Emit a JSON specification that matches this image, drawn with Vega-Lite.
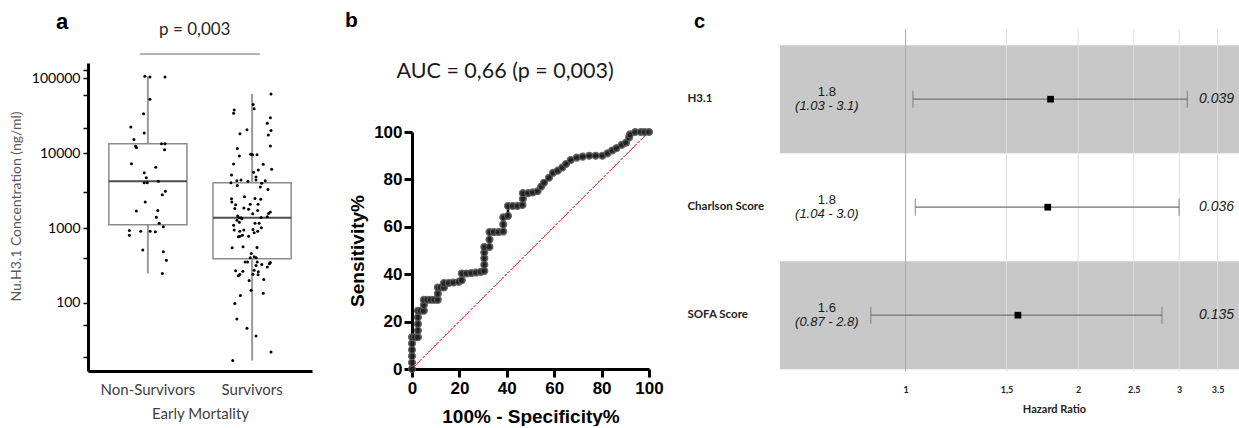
{
"$schema": "https://vega.github.io/schema/vega-lite/v6.json",
"background": "white",
"padding": {"left": 9, "top": 10, "right": 0, "bottom": 0},
"bounds": "flush",
"spacing": 100,
"config": {"view": {"stroke": null}, "title": {"font": "Liberation Sans", "fontWeight": "bold", "fontSize": 21, "color": "black", "anchor": "start", "frame": "group", "baseline": "alphabetic"}},
"datasets": {
"box": [
{"g":"Non-Survivors","min":248,"q1":1110,"med":4210,"q3":13400,"max":107000},
{"g":"Survivors","min":17,"q1":389,"med":1370,"q3":4030,"max":61900}
],
"pts": [
{"g":"Non-Survivors","v":107000,"j":-0.15},{"g":"Non-Survivors","v":104500,"j":0.1},{"g":"Non-Survivors","v":104500,"j":0.83},{"g":"Non-Survivors","v":52600,"j":0.1},{"g":"Non-Survivors","v":33700,"j":-0.21},{"g":"Non-Survivors","v":22400,"j":-0.83},{"g":"Non-Survivors","v":18600,"j":-0.18},{"g":"Non-Survivors","v":15300,"j":-0.68},{"g":"Non-Survivors","v":12400,"j":-0.6},{"g":"Non-Survivors","v":11900,"j":-0.56},{"g":"Non-Survivors","v":13400,"j":0.66},{"g":"Non-Survivors","v":13400,"j":0.83},{"g":"Non-Survivors","v":11100,"j":0.81},{"g":"Non-Survivors","v":7240,"j":-0.8},{"g":"Non-Survivors","v":6480,"j":0.38},{"g":"Non-Survivors","v":5480,"j":-0.18},{"g":"Non-Survivors","v":4700,"j":-0.08},{"g":"Non-Survivors","v":4030,"j":-0.18},{"g":"Non-Survivors","v":4030,"j":-0.03},{"g":"Non-Survivors","v":4210,"j":0.51},{"g":"Non-Survivors","v":3100,"j":0.85},{"g":"Non-Survivors","v":2790,"j":0.7},{"g":"Non-Survivors","v":2230,"j":-0.13},{"g":"Non-Survivors","v":1690,"j":-0.56},{"g":"Non-Survivors","v":1720,"j":0.48},{"g":"Non-Survivors","v":1400,"j":0.41},{"g":"Non-Survivors","v":1160,"j":0.55},{"g":"Non-Survivors","v":1040,"j":0.75},{"g":"Non-Survivors","v":930,"j":-0.9},{"g":"Non-Survivors","v":800,"j":-0.9},{"g":"Non-Survivors","v":910,"j":-0.35},{"g":"Non-Survivors","v":910,"j":0.11},{"g":"Non-Survivors","v":890,"j":0.36},{"g":"Non-Survivors","v":508,"j":-0.25},{"g":"Non-Survivors","v":482,"j":0.75},{"g":"Non-Survivors","v":373,"j":0.9},{"g":"Non-Survivors","v":248,"j":0.7},
{"g":"Survivors","v":61900,"j":0.92},{"g":"Survivors","v":45000,"j":0.05},{"g":"Survivors","v":39400,"j":0.1},{"g":"Survivors","v":37800,"j":-0.87},{"g":"Survivors","v":34200,"j":-0.9},{"g":"Survivors","v":29800,"j":0.89},{"g":"Survivors","v":25100,"j":0.74},{"g":"Survivors","v":20200,"j":0.92},{"g":"Survivors","v":20600,"j":-0.25},{"g":"Survivors","v":18200,"j":-0.59},{"g":"Survivors","v":17500,"j":0.79},{"g":"Survivors","v":12500,"j":0.89},{"g":"Survivors","v":11600,"j":-0.72},{"g":"Survivors","v":9670,"j":-0.07},{"g":"Survivors","v":9550,"j":0.02},{"g":"Survivors","v":9550,"j":0.24},{"g":"Survivors","v":9180,"j":-0.62},{"g":"Survivors","v":7110,"j":0.54},{"g":"Survivors","v":7170,"j":-0.9},{"g":"Survivors","v":5960,"j":0.3},{"g":"Survivors","v":6090,"j":0.95},{"g":"Survivors","v":5560,"j":0.07},{"g":"Survivors","v":5110,"j":-1.0},{"g":"Survivors","v":4810,"j":0.19},{"g":"Survivors","v":4030,"j":-1.03},{"g":"Survivors","v":4290,"j":-0.74},{"g":"Survivors","v":4380,"j":-0.54},{"g":"Survivors","v":4210,"j":-0.2},{"g":"Survivors","v":4380,"j":0.19},{"g":"Survivors","v":3960,"j":0.47},{"g":"Survivors","v":4290,"j":0.64},{"g":"Survivors","v":3530,"j":0.4},{"g":"Survivors","v":3290,"j":0.77},{"g":"Survivors","v":3720,"j":-0.72},{"g":"Survivors","v":2460,"j":-1.0},{"g":"Survivors","v":2620,"j":-0.37},{"g":"Survivors","v":2490,"j":0.14},{"g":"Survivors","v":2420,"j":0.42},{"g":"Survivors","v":2230,"j":-0.99},{"g":"Survivors","v":2050,"j":-0.8},{"g":"Survivors","v":2090,"j":-0.09},{"g":"Survivors","v":2080,"j":0.29},{"g":"Survivors","v":1850,"j":-0.4},{"g":"Survivors","v":1830,"j":-0.84},{"g":"Survivors","v":1780,"j":-0.17},{"g":"Survivors","v":1720,"j":0.27},{"g":"Survivors","v":1640,"j":0.89},{"g":"Survivors","v":1570,"j":0.8},{"g":"Survivors","v":1550,"j":0.03},{"g":"Survivors","v":1420,"j":0.74},{"g":"Survivors","v":1450,"j":-0.7},{"g":"Survivors","v":1370,"j":-0.64},{"g":"Survivors","v":1370,"j":-0.54},{"g":"Survivors","v":1270,"j":-0.74},{"g":"Survivors","v":1200,"j":-0.62},{"g":"Survivors","v":1330,"j":-0.5},{"g":"Survivors","v":1390,"j":0.44},{"g":"Survivors","v":1160,"j":0.14},{"g":"Survivors","v":1160,"j":0.34},{"g":"Survivors","v":1090,"j":-0.9},{"g":"Survivors","v":1010,"j":0.45},{"g":"Survivors","v":940,"j":-0.87},{"g":"Survivors","v":910,"j":-0.6},{"g":"Survivors","v":940,"j":-0.4},{"g":"Survivors","v":960,"j":0.04},{"g":"Survivors","v":910,"j":0.27},{"g":"Survivors","v":780,"j":-0.6},{"g":"Survivors","v":765,"j":-0.67},{"g":"Survivors","v":800,"j":-0.47},{"g":"Survivors","v":780,"j":-0.17},{"g":"Survivors","v":865,"j":0.1},{"g":"Survivors","v":545,"j":-0.97},{"g":"Survivors","v":562,"j":-0.44},{"g":"Survivors","v":552,"j":0.24},{"g":"Survivors","v":459,"j":-0.04},{"g":"Survivors","v":413,"j":0.1},{"g":"Survivors","v":401,"j":-0.09},{"g":"Survivors","v":401,"j":0.2},{"g":"Survivors","v":351,"j":-0.34},{"g":"Survivors","v":351,"j":-0.22},{"g":"Survivors","v":351,"j":0.25},{"g":"Survivors","v":348,"j":0.89},{"g":"Survivors","v":333,"j":0.84},{"g":"Survivors","v":317,"j":0.19},{"g":"Survivors","v":327,"j":0.47},{"g":"Survivors","v":301,"j":0.74},{"g":"Survivors","v":274,"j":0.1},{"g":"Survivors","v":269,"j":-0.8},{"g":"Survivors","v":264,"j":-0.45},{"g":"Survivors","v":240,"j":-0.6},{"g":"Survivors","v":230,"j":-0.67},{"g":"Survivors","v":242,"j":0.04},{"g":"Survivors","v":260,"j":0.3},{"g":"Survivors","v":237,"j":0.29},{"g":"Survivors","v":206,"j":0.57},{"g":"Survivors","v":200,"j":-0.14},{"g":"Survivors","v":148,"j":-0.05},{"g":"Survivors","v":135,"j":0.54},{"g":"Survivors","v":126,"j":-0.57},{"g":"Survivors","v":98.5,"j":-0.84},{"g":"Survivors","v":61,"j":-0.74},{"g":"Survivors","v":46,"j":-0.25},{"g":"Survivors","v":36,"j":0.19},{"g":"Survivors","v":22,"j":0.92},{"g":"Survivors","v":17,"j":-0.94}
],
"roc": [
{"i":1,"fpr":0,"tpr":0},{"i":2,"fpr":0,"tpr":2.7},{"i":3,"fpr":0,"tpr":5.4},{"i":4,"fpr":0,"tpr":8.1},{"i":5,"fpr":0,"tpr":10.8},{"i":6,"fpr":0,"tpr":13.4},{"i":7,"fpr":1.2,"tpr":13.4},{"i":8,"fpr":2.5,"tpr":13.4},{"i":9,"fpr":2.5,"tpr":16.2},{"i":10,"fpr":2.5,"tpr":19},{"i":11,"fpr":2.5,"tpr":21.8},{"i":12,"fpr":2.5,"tpr":24.6},{"i":13,"fpr":3.7,"tpr":24.6},{"i":14,"fpr":5,"tpr":24.6},{"i":15,"fpr":5,"tpr":27},{"i":16,"fpr":5,"tpr":29.2},{"i":17,"fpr":6.5,"tpr":29.2},{"i":18,"fpr":8,"tpr":29.2},{"i":19,"fpr":9.5,"tpr":29.2},{"i":20,"fpr":10.9,"tpr":29.2},{"i":21,"fpr":10.9,"tpr":31.8},{"i":22,"fpr":10.9,"tpr":34.4},{"i":23,"fpr":12.2,"tpr":34.4},{"i":24,"fpr":13.5,"tpr":34.4},{"i":25,"fpr":13.5,"tpr":36.3},{"i":26,"fpr":15.5,"tpr":36.3},{"i":27,"fpr":17.5,"tpr":36.5},{"i":28,"fpr":19.7,"tpr":36.8},{"i":29,"fpr":21,"tpr":37.5},{"i":30,"fpr":21,"tpr":40.3},{"i":31,"fpr":23,"tpr":40.3},{"i":32,"fpr":25,"tpr":40.5},{"i":33,"fpr":27,"tpr":40.7},{"i":34,"fpr":29,"tpr":41},{"i":35,"fpr":30.5,"tpr":41.4},{"i":36,"fpr":30.5,"tpr":44},{"i":37,"fpr":30.5,"tpr":46.7},{"i":38,"fpr":30.5,"tpr":49.2},{"i":39,"fpr":30.5,"tpr":51.5},{"i":40,"fpr":32.7,"tpr":51.5},{"i":41,"fpr":32.7,"tpr":54.6},{"i":42,"fpr":32.7,"tpr":57.8},{"i":43,"fpr":34.5,"tpr":57.8},{"i":44,"fpr":36.5,"tpr":57.8},{"i":45,"fpr":38.5,"tpr":58},{"i":46,"fpr":38.5,"tpr":61},{"i":47,"fpr":38.5,"tpr":64},{"i":48,"fpr":40.5,"tpr":64.6},{"i":49,"fpr":40.5,"tpr":68.8},{"i":50,"fpr":42.5,"tpr":68.8},{"i":51,"fpr":44.5,"tpr":68.8},{"i":52,"fpr":46.6,"tpr":69.2},{"i":53,"fpr":46.8,"tpr":71.8},{"i":54,"fpr":46.8,"tpr":74.2},{"i":55,"fpr":49,"tpr":74.2},{"i":56,"fpr":51,"tpr":74.5},{"i":57,"fpr":53,"tpr":75},{"i":58,"fpr":54.5,"tpr":77},{"i":59,"fpr":55.7,"tpr":78.6},{"i":60,"fpr":57.8,"tpr":80.7},{"i":61,"fpr":59.5,"tpr":82.8},{"i":62,"fpr":61.5,"tpr":83.7},{"i":63,"fpr":63.4,"tpr":85},{"i":64,"fpr":65,"tpr":86.5},{"i":65,"fpr":67,"tpr":88.2},{"i":66,"fpr":69.5,"tpr":89.2},{"i":67,"fpr":72,"tpr":89.6},{"i":68,"fpr":74.8,"tpr":90},{"i":69,"fpr":77.5,"tpr":90},{"i":70,"fpr":80.3,"tpr":90},{"i":71,"fpr":82.5,"tpr":91},{"i":72,"fpr":84.5,"tpr":92.2},{"i":73,"fpr":86.3,"tpr":93.2},{"i":74,"fpr":88.5,"tpr":94.6},{"i":75,"fpr":90.3,"tpr":95.5},{"i":76,"fpr":91.6,"tpr":97.7},{"i":77,"fpr":92,"tpr":99},{"i":78,"fpr":94.2,"tpr":100},{"i":79,"fpr":96.5,"tpr":100},{"i":80,"fpr":98.2,"tpr":100},{"i":81,"fpr":100,"tpr":100}
],
"hr": [
{"var":"H3.1","hr":1.79,"lo":1.03,"hi":3.1,"hr_label":"1.8","ci":"(1.03 - 3.1)","p":"0.039","shade":"yes"},
{"var":"Charlson Score","hr":1.77,"lo":1.04,"hi":3.0,"hr_label":"1.8","ci":"(1.04 - 3.0)","p":"0.036","shade":"no"},
{"var":"SOFA Score","hr":1.57,"lo":0.87,"hi":2.8,"hr_label":"1.6","ci":"(0.87 - 2.8)","p":"0.135","shade":"yes"}
],
"grid": [{"v":1},{"v":1.5},{"v":2},{"v":2.5},{"v":3},{"v":3.5}]
},
"hconcat": [
{
"title": {"text": "a", "dx": -32, "offset": -23, "fontSize": 22},
"width": 224, "height": 360,
"resolve": {"scale": {"xOffset": "independent"}},
"layer": [
{"data": {"name": "box"},
 "mark": {"type": "rule", "color": "#9a9a9a", "strokeWidth": 2},
 "encoding": {
  "x": {"field": "g", "type": "nominal", "sort": ["Non-Survivors","Survivors"],
   "scale": {"domain": ["Non-Survivors","Survivors"], "paddingInner": 0.25, "paddingOuter": 0.2},
   "axis": {"title": "Early Mortality", "labelAngle": 0, "labelFont": "Lato", "labelFontSize": 15, "labelColor": "#404040", "labelPadding": 11, "ticks": false, "domainColor": "black", "domainWidth": 3, "titleFont": "Lato", "titleFontSize": 15, "titleFontWeight": "normal", "titleColor": "#404040", "titlePadding": 9}},
  "y": {"field": "min", "type": "quantitative",
   "scale": {"type": "log", "domain": [12.3, 160800], "range": [360, 52], "nice": false},
   "axis": {"title": "Nu.H3.1 Concentration (ng/ml)", "values": [19, 50, 100, 400, 1000, 3000, 10000, 22000, 60000, 100000, 130000], "labelExpr": "(datum.value==100||datum.value==1000||datum.value==10000||datum.value==100000) ? format(datum.value,'d') : ''", "grid": false, "labelFont": "Lato", "labelFontSize": 14, "labelColor": "black", "tickColor": "black", "tickSize": 5, "tickWidth": 1.5, "domainColor": "black", "domainWidth": 3, "labelPadding": 3, "titleFont": "Lato", "titleFontSize": 14, "titleFontWeight": "normal", "titleColor": "#595959", "titlePadding": 8, "titleY": 195}},
  "y2": {"field": "max"}
 }},
{"data": {"name": "box"},
 "mark": {"type": "bar", "fill": "white", "stroke": "#8c8c8c", "strokeWidth": 1.5},
 "encoding": {"x": {"field": "g", "type": "nominal"}, "y": {"field": "q1", "type": "quantitative"}, "y2": {"field": "q3"}}},
{"data": {"name": "box"},
 "mark": {"type": "bar", "fill": null, "stroke": "#4d4d4d", "strokeWidth": 2},
 "encoding": {"x": {"field": "g", "type": "nominal"}, "y": {"field": "med", "type": "quantitative"}, "y2": {"field": "med"}}},
{"data": {"name": "pts"},
 "mark": {"type": "circle", "size": 9, "color": "black", "opacity": 1},
 "encoding": {"x": {"field": "g", "type": "nominal"}, "xOffset": {"field": "j", "type": "quantitative", "scale": {"domain": [-1.9, 1.9]}}, "y": {"field": "v", "type": "quantitative"}}},
{"data": {"values": [{"from": "Non-Survivors", "to": "Survivors"}]},
 "mark": {"type": "rule", "color": "#666666", "strokeWidth": 1},
 "encoding": {"x": {"field": "from", "type": "nominal", "bandPosition": 0.4}, "x2": {"field": "to", "bandPosition": 0.6}, "y": {"datum": 211800, "type": "quantitative"}}},
{"data": {"values": [{"label": "p = 0,003"}]},
 "mark": {"type": "text", "font": "Lato", "fontSize": 17, "color": "#262626", "baseline": "alphabetic", "align": "center"},
 "encoding": {"x": {"datum": "Non-Survivors", "type": "nominal", "bandPosition": 1.1}, "y": {"datum": 375000, "type": "quantitative"}, "text": {"field": "label"}}}
]
},
{
"title": {"text": "b", "dx": -67, "offset": -20},
"width": 268, "height": 360,
"layer": [
{"data": {"name": "roc"},
 "mark": {"type": "rule", "color": "#ff4d4d", "strokeWidth": 1, "strokeDash": [2, 2]},
 "encoding": {
  "x": {"datum": 0, "type": "quantitative",
   "scale": {"domain": [0, 100], "range": [0, 237], "nice": false},
   "axis": {"values": [0,20,40,60,80,100], "labelFlush": false, "labelOverlap": false, "title": "100% - Specificity%", "grid": false, "offset": -2, "domainColor": "black", "domainWidth": 3, "tickColor": "black", "tickWidth": 3, "tickSize": 8, "labelFont": "Liberation Sans", "labelFontWeight": "bold", "labelFontSize": 17, "labelColor": "black", "labelPadding": 3, "titleFont": "Liberation Sans", "titleFontWeight": "bold", "titleFontSize": 19, "titleColor": "black", "titlePadding": 11}},
  "y": {"datum": 0, "type": "quantitative",
   "scale": {"domain": [0, 100], "range": [358, 121], "nice": false},
   "axis": {"values": [0,20,40,60,80,100], "labelFlush": false, "labelOverlap": false, "title": "Sensitivity%", "grid": false, "domainColor": "black", "domainWidth": 3, "tickColor": "black", "tickWidth": 3, "tickSize": 8, "labelFont": "Liberation Sans", "labelFontWeight": "bold", "labelFontSize": 17, "labelColor": "black", "labelPadding": 2, "titleFont": "Liberation Sans", "titleFontWeight": "bold", "titleFontSize": 19, "titleColor": "black", "titlePadding": 6}},
  "x2": {"datum": 100}, "y2": {"datum": 100}
 }},
{"data": {"name": "roc"},
 "mark": {"type": "line", "color": "black", "strokeWidth": 2.5},
 "encoding": {"x": {"field": "fpr", "type": "quantitative"}, "y": {"field": "tpr", "type": "quantitative"}, "order": {"field": "i"}}},
{"data": {"name": "roc"},
 "mark": {"type": "circle", "size": 48, "color": "#222222", "opacity": 0.9, "stroke": "#5a5a5a", "strokeWidth": 1.2},
 "encoding": {"x": {"field": "fpr", "type": "quantitative"}, "y": {"field": "tpr", "type": "quantitative"}}},
{"data": {"values": [{"label": "AUC = 0,66 (p = 0,003)"}]},
 "mark": {"type": "text", "font": "Lato", "fontSize": 21.5, "color": "#1a1a1a", "baseline": "alphabetic", "align": "center"},
 "encoding": {"x": {"datum": 39.3, "type": "quantitative"}, "y": {"datum": 122.6, "type": "quantitative"}, "text": {"field": "label"}}}
]
},
{
"title": {"text": "c", "dx": -86, "offset": -21, "fontSize": 20},
"width": 460, "height": 360,
"data": {"name": "hr"},
"layer": [
{"transform": [{"filter": "datum.shade == 'yes'"}],
 "mark": {"type": "rect", "color": "#c8c8c8"},
 "encoding": {
  "y": {"field": "var", "type": "nominal", "sort": ["H3.1","Charlson Score","SOFA Score"],
   "scale": {"domain": ["H3.1","Charlson Score","SOFA Score"], "range": [18, 360], "paddingInner": 0, "paddingOuter": 0.0833, "align": 0.9},
   "axis": {"title": null, "domain": false, "ticks": false, "labelAlign": "left", "labelPadding": 93, "labelFont": "Lato", "labelFontWeight": "bold", "labelFontSize": 11.5, "labelColor": "#222222"}},
  "x": {"datum": 0.604, "type": "quantitative",
   "scale": {"type": "log", "domain": [0.604, 3.83], "nice": false},
   "axis": {"values": [1, 1.5, 2, 2.5, 3, 3.5], "labelExpr": "datum.value == 1.5 ? '1,5' : toString(datum.value)", "domain": false, "ticks": false, "grid": false, "labelFont": "Lato", "labelFontWeight": "bold", "labelFontSize": 9, "labelColor": "#222222", "labelPadding": 14, "title": "Hazard Ratio", "titleFont": "Lato", "titleFontWeight": "bold", "titleFontSize": 11, "titleColor": "#222222", "titlePadding": 9, "titleX": 274}},
  "x2": {"datum": 3.83}
 }},
{"data": {"name": "grid"},
 "mark": {"type": "rule", "strokeWidth": 1},
 "encoding": {"x": {"field": "v", "type": "quantitative"},
  "y": {"datum": "H3.1", "type": "nominal", "bandPosition": -0.148},
  "y2": {"datum": "SOFA Score", "bandPosition": 1.02},
  "color": {"condition": {"test": "datum.v == 1", "value": "#aaaaaa"}, "value": "#dedede"}}},
{"mark": {"type": "rule", "color": "#707070", "strokeWidth": 1.2},
 "encoding": {"y": {"field": "var", "type": "nominal"}, "x": {"field": "lo", "type": "quantitative"}, "x2": {"field": "hi"}}},
{"mark": {"type": "tick", "color": "#707070", "thickness": 1.2, "size": 17},
 "encoding": {"y": {"field": "var", "type": "nominal"}, "x": {"field": "lo", "type": "quantitative"}}},
{"mark": {"type": "tick", "color": "#707070", "thickness": 1.2, "size": 17},
 "encoding": {"y": {"field": "var", "type": "nominal"}, "x": {"field": "hi", "type": "quantitative"}}},
{"mark": {"type": "square", "color": "black", "opacity": 1, "size": 45},
 "encoding": {"y": {"field": "var", "type": "nominal"}, "x": {"field": "hr", "type": "quantitative"}}},
{"mark": {"type": "text", "font": "Liberation Sans", "fontSize": 13, "color": "#1a1a1a", "dy": -7, "align": "center", "baseline": "middle"},
 "encoding": {"y": {"field": "var", "type": "nominal"}, "x": {"datum": 0.729, "type": "quantitative"}, "text": {"field": "hr_label"}}},
{"mark": {"type": "text", "font": "Liberation Sans", "fontSize": 13, "fontStyle": "italic", "color": "#1a1a1a", "dy": 7, "align": "center", "baseline": "middle"},
 "encoding": {"y": {"field": "var", "type": "nominal"}, "x": {"datum": 0.729, "type": "quantitative"}, "text": {"field": "ci"}}},
{"mark": {"type": "text", "font": "Liberation Sans", "fontSize": 14, "fontStyle": "italic", "color": "#1a1a1a", "align": "right", "baseline": "middle"},
 "encoding": {"y": {"field": "var", "type": "nominal"}, "x": {"datum": 3.74, "type": "quantitative"}, "text": {"field": "p"}}}
]
}
]
}
